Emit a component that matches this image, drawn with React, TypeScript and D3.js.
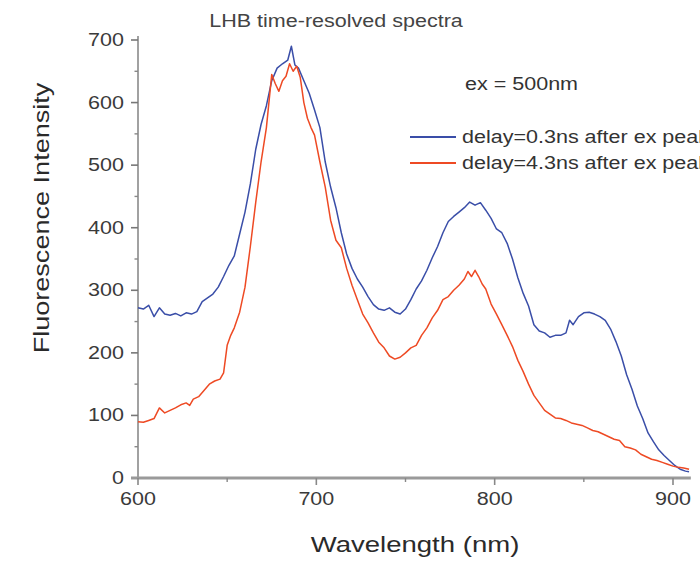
import React from "react";
import * as d3 from "d3";

const title = "LHB time-resolved spectra";
const xLabel = "Wavelength (nm)";
const yLabel = "Fluorescence Intensity";
const annotation = "ex = 500nm";
const seriesNames = ["delay=0.3ns after ex peak", "delay=4.3ns after ex peak"];
const seriesColors = ["#3a4ea8", "#ee4a24"];
const xTicks = [600, 700, 800, 900];
const xMinor = [650, 750, 850];
const yTicks = [0, 100, 200, 300, 400, 500, 600, 700];
const yMinor = [50, 150, 250, 350, 450, 550, 650];

const blueWl = [600,603,606,609,612,615,618,621,624,627,630,633,636,639,642,645,648,651,654,657,660,663,666,669,672,675,678,681,684,686,688,690,693,696,699,702,705,708,711,714,717,720,723,726,729,732,735,738,741,744,747,750,753,756,759,762,765,768,771,774,777,780,783,786,789,792,795,798,801,804,807,810,813,816,819,822,825,828,831,834,837,840,842,844,847,850,853,856,859,862,865,868,871,874,877,880,883,886,889,892,895,898,901,904,907,909];
const blueVal = [272,270,276,258,272,262,260,263,259,264,262,266,282,288,294,305,322,340,355,390,425,470,525,565,595,635,655,662,668,690,660,655,635,615,588,560,505,465,432,392,358,335,318,305,290,277,270,268,272,265,262,270,285,302,315,332,352,370,392,410,418,425,432,441,436,440,428,415,398,392,375,350,320,295,275,245,235,232,225,228,228,232,252,245,258,264,265,262,258,252,238,218,195,165,142,115,95,72,58,45,36,28,20,14,11,10];

const redWl = [600,603,606,609,612,615,618,621,624,627,629,631,634,637,640,643,646,648,650,652,654,657,660,663,666,669,672,675,677,679,681,683,685,687,689,691,693,695,697,699,702,705,708,711,714,717,720,723,726,729,732,735,738,741,744,747,750,753,756,759,762,765,768,771,774,777,780,783,785,787,789,791,793,795,798,801,804,807,810,813,816,819,822,825,828,831,834,837,840,843,846,849,852,855,858,861,864,867,870,873,876,879,882,885,888,891,894,897,900,903,906,909];
const redVal = [90,89,92,95,112,104,108,112,117,120,116,126,130,140,150,155,158,168,212,228,240,265,305,370,440,505,560,645,630,618,635,642,662,650,658,640,600,575,560,548,505,465,412,380,368,335,308,285,262,248,232,217,208,195,190,193,200,208,212,228,240,256,268,285,290,300,308,318,330,322,332,322,310,302,278,262,245,228,210,188,170,150,132,120,108,102,96,95,92,88,86,84,80,76,74,70,66,62,60,50,48,45,38,34,30,28,25,22,19,17,16,14];

const FONT = "'Liberation Sans', Arial, Helvetica, sans-serif";
const SX = 1.23;

function T({ x, y, size, anchor = "start", rotate = 0, fill = "#333", children }: any) {
  return (
    <text
      transform={`translate(${x},${y}) rotate(${rotate}) scale(${SX},1)`}
      fontSize={size}
      fontFamily={FONT}
      textAnchor={anchor}
      fill={fill}
    >
      {children}
    </text>
  );
}

export default function App() {
  const W = 700, H = 563;
  const x = d3.scaleLinear().domain([600, 900]).range([138, 673]);
  const y = d3.scaleLinear().domain([0, 700]).range([478, 40]);
  const xEnd = x(910);

  const blue = blueWl.map((w, i) => [w, blueVal[i]] as [number, number]);
  const red = redWl.map((w, i) => [w, redVal[i]] as [number, number]);
  const line = d3.line<[number, number]>().x(d => x(d[0])).y(d => y(d[1]));

  return (
    <svg width={W} height={H} style={{ position: "absolute", left: 0, top: 0, background: "#fff" }}>
      <rect width={W} height={H} fill="#fff" />
      {/* y axis */}
      <line x1={138} x2={138} y1={36} y2={478} stroke="#8a8a8a" strokeWidth={1.6} />
      {yTicks.map(t => (
        <g key={"yt" + t}>
          <line x1={131} x2={138} y1={y(t)} y2={y(t)} stroke="#777" strokeWidth={1.6} />
          <T x={124} y={y(t) + 6} size={17.5} anchor="end" fill="#3a3a3a">{t}</T>
        </g>
      ))}
      {yMinor.map(t => (
        <line key={"ym" + t} x1={134.5} x2={138} y1={y(t)} y2={y(t)} stroke="#888" strokeWidth={1.4} />
      ))}
      {/* series */}
      <path d={line(blue) || ""} fill="none" stroke={seriesColors[0]} strokeWidth={1.5} strokeLinejoin="round" />
      <path d={line(red) || ""} fill="none" stroke={seriesColors[1]} strokeWidth={1.5} strokeLinejoin="round" />
      {/* x axis */}
      <line x1={131} x2={xEnd} y1={478} y2={478} stroke="#9a9a9a" strokeWidth={3} />
      {xTicks.map(t => (
        <g key={"xt" + t}>
          <line x1={x(t)} x2={x(t)} y1={478} y2={485} stroke="#888" strokeWidth={1.6} />
          <T x={x(t)} y={505} size={17.5} anchor="middle" fill="#3a3a3a">{t}</T>
        </g>
      ))}
      {xMinor.map(t => (
        <line key={"xm" + t} x1={x(t)} x2={x(t)} y1={478} y2={482} stroke="#888" strokeWidth={1.4} />
      ))}
      {/* titles */}
      <T x={336} y={27} size={17.5} anchor="middle" fill="#444">{title}</T>
      <T x={415} y={552} size={22.4} anchor="middle" fill="#2a2a2a">{xLabel}</T>
      <T x={49} y={218} size={22} anchor="middle" rotate={-90} fill="#2a2a2a">{yLabel}</T>
      <T x={465} y={90} size={17.5} fill="#333">{annotation}</T>
      {/* legend */}
      {seriesNames.map((n, i) => (
        <g key={n}>
          <line x1={410} x2={456} y1={137 + i * 26} y2={137 + i * 26} stroke={seriesColors[i]} strokeWidth={2} />
          <T x={462} y={143 + i * 26} size={17.5} fill="#333">{n}</T>
        </g>
      ))}
    </svg>
  );
}
